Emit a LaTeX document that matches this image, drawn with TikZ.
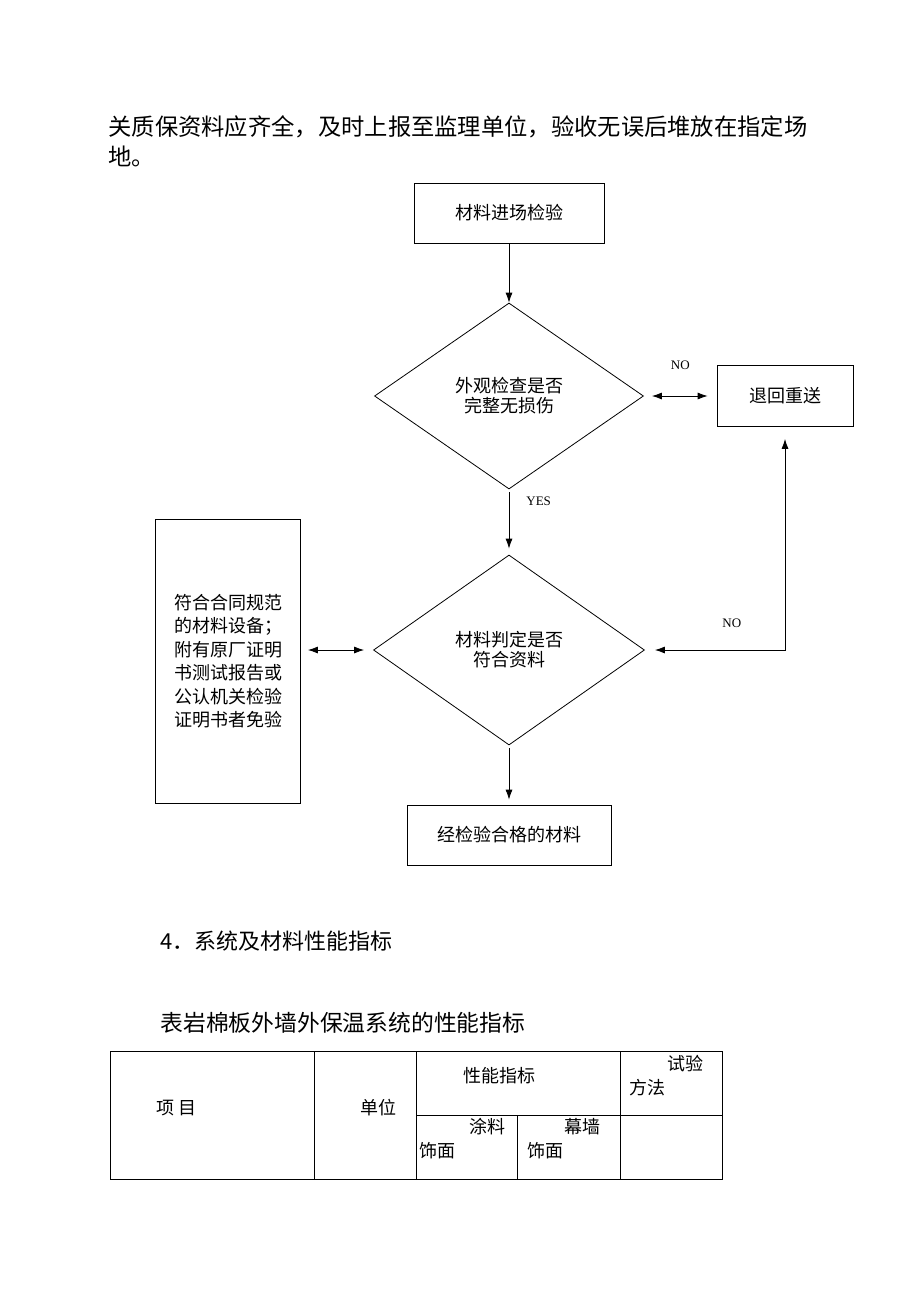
\documentclass[tikz,border=0pt]{standalone}
\usepackage{fontspec}
\setmainfont{Noto Sans CJK SC}
\newfontfamily\latinserif{Liberation Serif}
\usetikzlibrary{shapes.geometric,arrows.meta}

\begin{document}
\begin{tikzpicture}[x=1pt, y=-1pt, line width=0.8pt, >={Latex[length=10pt,width=7pt]}]
			\tikzstyle{box}      = [rectangle, draw=black, inner sep=0pt, align=center, font=\fontsize{18pt}{20pt}\selectfont]
			\tikzstyle{decision} = [diamond, draw=black, inner sep=0pt, align=center, font=\fontsize{18pt}{20pt}\selectfont]
			\tikzstyle{flag}     = [inner sep=0pt, font=\latinserif\fontsize{13pt}{13pt}\selectfont]
			\tikzstyle{para}     = [anchor=west, inner sep=0pt]
			\tikzstyle{cell}     = [inner sep=0pt, font=\fontsize{18pt}{18pt}\selectfont]

			\useasboundingbox (0,0) rectangle (920,1302);

			% text above and below the chart
			\node[para, font=\fontsize{23.3pt}{28pt}\selectfont] (line1) at (108,127) {关质保资料应齐全，及时上报至监理单位，验收无误后堆放在指定场};
			\node[para, font=\fontsize{23.3pt}{28pt}\selectfont] (line2) at (108,156) {地。};
			\node[para, font=\fontsize{22pt}{26pt}\selectfont] (head) at (160,941) {4．系统及材料性能指标};
			\node[para, font=\fontsize{22.8pt}{26pt}\selectfont] (caption) at (160,1023) {表岩棉板外墙外保温系统的性能指标};

			% flow chart
			\node[box, minimum width=190pt, minimum height=60pt] (enter) at (509,213) {材料进场检验};
			\node[decision, minimum width=269pt, minimum height=186pt] (look) at (509,396) {外观检查是否\\完整无损伤};
			\node[box, minimum width=136pt, minimum height=61pt] (resend) at (785,396) {退回重送};
			\node[decision, minimum width=271pt, minimum height=190pt] (judge) at (509,650) {材料判定是否\\符合资料};
			\node[box, minimum width=145pt, minimum height=284pt, font=\fontsize{18pt}{23.5pt}\selectfont] (exempt) at (228,661)
				{符合合同规范\\的材料设备；\\附有原厂证明\\书测试报告或\\公认机关检验\\证明书者免验};
			\node[box, minimum width=204pt, minimum height=60pt] (pass) at (509,835) {经检验合格的材料};

			\draw[->] (enter) -- (look);
			\draw[->, shorten <=3pt, shorten >=6pt] (look) -- (judge) node[flag, pos=0.18, anchor=west, xshift=17pt] {YES};
			\draw[<->, shorten <=8pt, shorten >=9pt] (look.east) -- (resend.west) node[flag, midway, above=26pt] {NO};
			\draw[<->, shorten <=10pt, shorten >=12pt] (judge.east) -| (resend.south) node[flag, pos=0.31, above=22pt] {NO};
			\draw[<->, shorten <=7pt, shorten >=9pt] (judge.west -| exempt.east) -- (judge.west);
			\draw[->, shorten <=3pt, shorten >=5pt] (judge) -- (pass);

			% table head
			\draw (110,1051) rectangle (722,1179);
			\foreach \x in {314, 416, 620}
				\draw (\x,1051) -- (\x,1179);
			\draw (416,1115) -- (722,1115);
			\draw (517,1115) -- (517,1179);

			\foreach \name/\text/\x/\y in {item/项 目/177/1108, unit/单位/378/1108, index/性能指标/499/1076,
					test/试验/685/1064, method/方法/647/1088, paint/涂料/487/1127, face1/饰面/437/1151,
					curtain/幕墙/582/1127, face2/饰面/545/1151}
				\node[cell] (\name) at (\x,\y) {\text};

		\end{tikzpicture}
\end{document}
